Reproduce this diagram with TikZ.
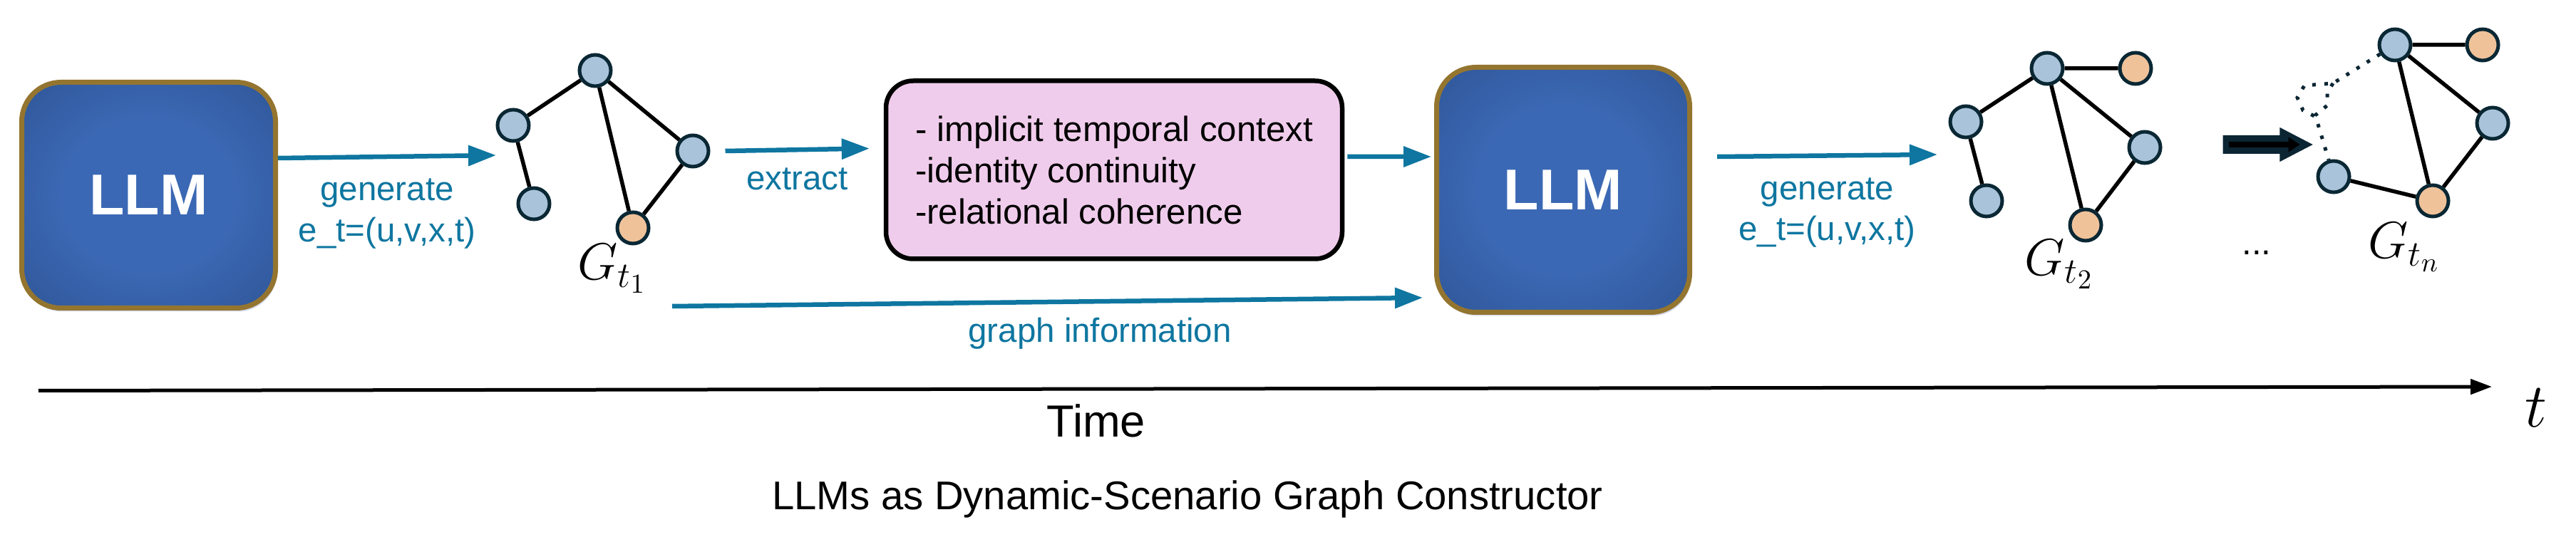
\documentclass[tikz,border=0pt]{standalone}
\usepackage{fontspec}
\setmainfont{Liberation Sans}
\usetikzlibrary{arrows.meta, positioning, shadows, shapes.arrows}
\definecolor{flowblue}{HTML}{0E76A0}
\definecolor{llmcore}{HTML}{3B68B4}
\definecolor{llmrim}{HTML}{2E5495}
\definecolor{llmgold}{HTML}{94752F}
\definecolor{llmshadow}{HTML}{B4BED6}
\definecolor{cuefill}{HTML}{F0CCEC}
\definecolor{vtxblue}{HTML}{A9C3DA}
\definecolor{vtxorange}{HTML}{EFC29A}
\definecolor{vtxline}{HTML}{0A2734}
\definecolor{navyblk}{HTML}{0B2533}
\pgfdeclareradialshading{llmglow}{\pgfpoint{0bp}{0bp}}{color(0bp)=(llmcore); color(17bp)=(llmcore); color(38bp)=(llmrim); color(50bp)=(llmrim)}

\begin{document}
\begin{tikzpicture}[
    llm/.style={rounded corners=0.55cm, draw=llmgold, line width=0.07cm, shading=llmglow, text=white, font=\fontsize{23}{27}\selectfont\bfseries, drop shadow={shadow xshift=0.02cm, shadow yshift=-0.05cm, fill=llmshadow, opacity=0.6}},
    cue/.style={draw=black, line width=0.065cm, fill=cuefill, rounded corners=0.38cm, minimum width=6.40cm, minimum height=2.50cm, align=left, font=\fontsize{14}{16.5}\selectfont},
    vtx/.style={circle, draw=vtxline, line width=0.05cm, fill=vtxblue, minimum size=0.44cm, inner sep=0pt},
    hot/.style={vtx, fill=vtxorange},
    link/.style={line width=0.055cm},
    gone/.style={draw=navyblk, line width=0.05cm, dash pattern=on 0.05cm off 0.12cm},
    flow/.style={draw=flowblue, line width=0.065cm, -{Triangle[length=0.39cm, width=0.28cm]}},
    lbl/.style={text=flowblue, font=\fontsize{13.5}{16.3}\selectfont, align=center, inner sep=0pt},
    glabel/.style={font=\fontsize{22}{26}\selectfont, inner sep=0pt, anchor=base}
]
    \useasboundingbox (0,0) rectangle (36.14,-7.54);

    \node[llm, minimum width=3.56cm, minimum height=3.17cm] (llmA) at (2.085,-2.74) {LLM};
    \node[llm, minimum width=3.55cm, minimum height=3.44cm] (llmB) at (21.93,-2.665) {LLM};
    \node[cue] (cue) at (15.63,-2.385) {- implicit temporal context\\-identity continuity\\-relational coherence};

    \node[vtx] (aTop) at (8.35,-0.99) {};
    \node[vtx] (aLeft) at (7.20,-1.76) {};
    \node[vtx] (aRight) at (9.72,-2.12) {};
    \node[vtx] (aLow) at (7.49,-2.86) {};
    \node[hot] (aBot) at (8.88,-3.20) {};
    \draw[link] (aTop) -- (aLeft) (aTop) -- (aRight) (aTop) -- (aBot) (aLeft) -- (aLow) (aRight) -- (aBot);
    \node[glabel] (gA) at (8.59,-3.93) {$G_{t_1}$};

    \node[vtx] (bTop) at (28.72,-0.96) {};
    \node[hot] (bExt) at (29.96,-0.96) {};
    \node[vtx] (bLeft) at (27.58,-1.71) {};
    \node[vtx] (bRight) at (30.09,-2.07) {};
    \node[vtx] (bLow) at (27.87,-2.82) {};
    \node[hot] (bBot) at (29.26,-3.16) {};
    \draw[link] (bTop) -- (bExt) (bTop) -- (bLeft) (bTop) -- (bRight) (bTop) -- (bBot) (bLeft) -- (bLow) (bRight) -- (bBot);
    \node[glabel] (gB) at (28.89,-3.87) {$G_{t_2}$};

    \node[vtx] (cTop) at (33.60,-0.63) {};
    \node[hot] (cExt) at (34.83,-0.63) {};
    \node[vtx] (cRight) at (34.97,-1.73) {};
    \node[vtx] (cLow) at (32.74,-2.48) {};
    \node[hot] (cBot) at (34.13,-2.82) {};
    \draw[link] (cTop) -- (cExt) (cTop) -- (cRight) (cTop) -- (cBot) (cRight) -- (cBot) (cLow) -- (cBot);
    \draw[gone] (cTop) -- (32.73,-1.17) -- (32.33,-1.20) -- (32.23,-1.37) -- (32.31,-1.55) -- (32.47,-1.63);
    \draw[gone] (32.73,-1.17) -- (32.65,-1.30) -- (32.65,-1.48) -- (32.48,-1.62) -- (32.54,-1.81) -- (cLow);
    \node[glabel] (gN) at (33.73,-3.63) {$G_{t_n}$};

    \node[single arrow, fill=navyblk, draw=navyblk, line width=0.02cm, minimum height=1.23cm, minimum width=0.43cm, inner sep=0.11cm, single arrow head extend=0.105cm, single arrow tip angle=55] (fwd) at (31.695,-2.03) {};
    \draw[line width=0.08cm, -{Triangle[length=0.16cm, width=0.2cm]}] ([xshift=0.08cm]fwd.tail) -- ([xshift=-0.18cm]fwd.tip);
    \node[font=\fontsize{14}{17}\selectfont, anchor=base] (more) at (31.66,-3.58) {...};

    \coordinate (inA) at (6.96,-2.18);
    \coordinate (inB) at (27.18,-2.17);
    \coordinate (gInfo) at (9.43,-4.30);
    \draw[flow] ([yshift=0.52cm]llmA.east) -- (inA) node[midway, below=0.28cm, lbl] {generate\\e\_t=(u,v,x,t)};
    \draw[flow] ([xshift=0.21cm]aRight.east) -- ([shift={(-0.2,0.3)}]cue.west) node[midway, below=0.22cm, lbl] {extract};
    \draw[flow] ([shift={(0.04,0.185)}]cue.east) -- ([shift={(-0.04,0.465)}]llmB.west);
    \draw[flow] (gInfo) -- ([shift={(-0.16,-1.515)}]llmB.west) node[pos=0.57, below=0.2cm, lbl] {graph information};
    \draw[flow] ([shift={(0.35,0.465)}]llmB.east) -- (inB) node[midway, below=0.28cm, lbl] {generate\\e\_t=(u,v,x,t)};

    \coordinate (t0) at (0.54,-5.485);
    \coordinate (t1) at (34.96,-5.43);
    \draw[line width=0.05cm, -{Triangle[length=0.30cm, width=0.21cm]}] (t0) -- (t1);
    \node[font=\fontsize{25}{30}\selectfont, anchor=base] (tmark) at (35.58,-5.99) {$t$};
    \node[font=\fontsize{18}{22}\selectfont, anchor=base] (time) at (15.38,-6.13) {Time};
    \node[font=\fontsize{16}{19}\selectfont, anchor=base] (title) at (16.66,-7.15) {LLMs as Dynamic-Scenario Graph Constructor};
\end{tikzpicture}
\end{document}
